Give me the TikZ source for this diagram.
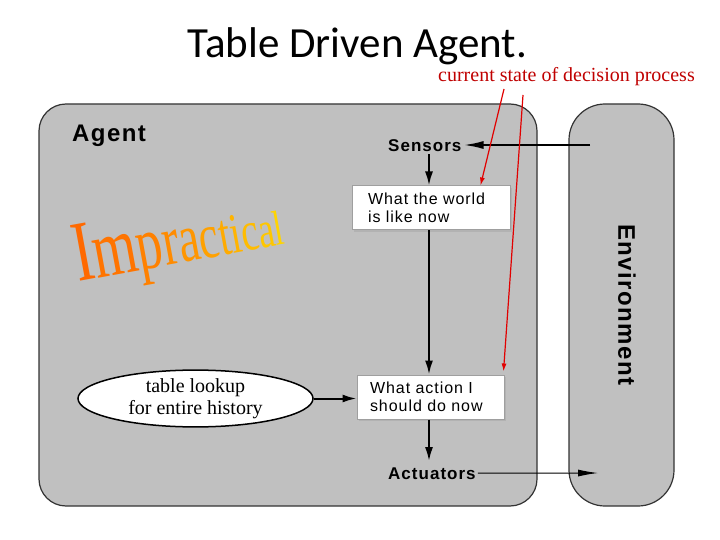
\documentclass[tikz,border=0pt]{standalone}
\usepackage{fontspec}
\setmainfont{Liberation Serif}
\newfontfamily\ssf[LetterSpace=6]{Liberation Sans}
\newfontfamily\titlefont{Carlito}
\usetikzlibrary{arrows.meta,calc,shapes.geometric}
\definecolor{panel}{RGB}{192,192,192}
\definecolor{redtxt}{RGB}{192,0,0}
\definecolor{redarr}{RGB}{225,0,0}
\definecolor{wyellow}{RGB}{255,212,0}
\definecolor{wred}{RGB}{255,105,0}
\newcommand\artch[3]{\fontsize{#1}{#1}\selectfont\textcolor{wyellow!#2!wred}{#3}}

\begin{document}
\begin{tikzpicture}[x=1pt,y=-1pt,
  panelbox/.style={draw=black!80, line width=1.2pt, fill=panel, inner sep=0},
  statebox/.style={draw=gray!75, line width=1pt, fill=white, inner xsep=#1, inner ysep=0, minimum height=44pt, align=left, font=\ssf\fontsize{16}{18}\selectfont},
  heavyarrow/.style={draw=black, line width=2pt, -{Latex[length=14pt,width=8pt]}},
  longarrow/.style={draw=black, line width=2pt, -{Latex[length=20pt,width=8pt]}},
  thinarrow/.style={draw=black, line width=1pt, -{Latex[length=20pt,width=7pt]}},
  redarrow/.style={draw=redarr, line width=1.2pt, -{Latex[length=8pt,width=5pt]}},
  boldlabel/.style={font=\ssf\bfseries\fontsize{17}{20}\selectfont, inner sep=2pt}
]
\useasboundingbox (0,0) rectangle (720,540);
\fill[white] (0,0) rectangle (720,540);

% panels
\node[panelbox, rounded corners=27pt, minimum width=498pt, minimum height=402pt] (agent) at (288,305) {};
\node[panelbox, rounded corners=36pt, minimum width=105pt, minimum height=402pt] (env) at (621.5,305) {};

% titles
\node[anchor=base, inner sep=0, font=\titlefont\fontsize{43}{43}\selectfont] (title) at (357.5,58) {Table Driven Agent.};
\node[anchor=base west, inner sep=0, text=redtxt, font=\fontsize{20}{22}\selectfont] (note) at (438,82) {current state of decision process};

% labels
\node[anchor=base west, inner sep=0, font=\ssf\bfseries\fontsize{24}{26}\selectfont] (agentlbl) at (72,142) {Agent};
\node[rotate=-90, inner sep=0, font=\ssf\bfseries\fontsize{24}{26}\selectfont] (envlbl) at (627,305) {Environment};
\node[boldlabel, anchor=base west] (sensors) at (386,152) {Sensors};
\node[boldlabel, anchor=base west] (actuators) at (386,479) {Actuators};

% impractical word art
\node[anchor=base west, inner sep=0, rotate=10.4] (art) at (78,282) {\scalebox{0.69}[1]{\artch{86}{0}{I}\artch{82}{10}{m}\artch{75}{22}{p}\artch{71}{32}{r}\artch{68}{42}{a}\artch{64}{52}{c}\artch{60}{62}{t}\artch{57}{70}{i}\artch{56}{78}{c}\artch{52}{88}{a}\artch{49}{100}{l}}};

% state boxes
\fill[gray!60] (354,188) rectangle (512,232);
\node[statebox=16pt, text width=126pt] (world) at (431,208) {What the world\\is like now};
\fill[gray!60] (359,377) rectangle (506,421);
\node[statebox=13pt, text width=121pt] (action) at (430.5,397) {What action I\\should do now};

% lookup ellipse
\node[ellipse, draw=black, line width=1.5pt, fill=white, minimum width=235pt, minimum height=53pt, inner sep=0, align=center, font=\fontsize{20}{22}\selectfont] (lookup) at (195.5,398.5) {table lookup\\for entire history};

% connectors
\coordinate (vx) at (429,0);
\coordinate (envin) at (590,145);
\coordinate (envout) at (598,473);
\draw[longarrow] (envin) -- (sensors.east |- envin);
\draw[heavyarrow] (sensors.south -| vx) -- (world.north -| vx);
\draw[heavyarrow] (world.south -| vx) -- (action.north -| vx);
\draw[heavyarrow] (action.south -| vx) -- ($(actuators.north -| vx)+(0,-4)$);
\draw[thinarrow] (actuators.east) -- (envout);
\draw[heavyarrow] (lookup.east) -- (action.west |- lookup.east);

% red arrows
\coordinate (r1) at (504,89);
\coordinate (r2) at (523,95);
\draw[redarrow] (r1) -- ($(world.north east)+(-30,0)$);
\draw[redarrow] (r2) -- ($(action.north east)+(-1,-3)$);
\end{tikzpicture}
\end{document}
